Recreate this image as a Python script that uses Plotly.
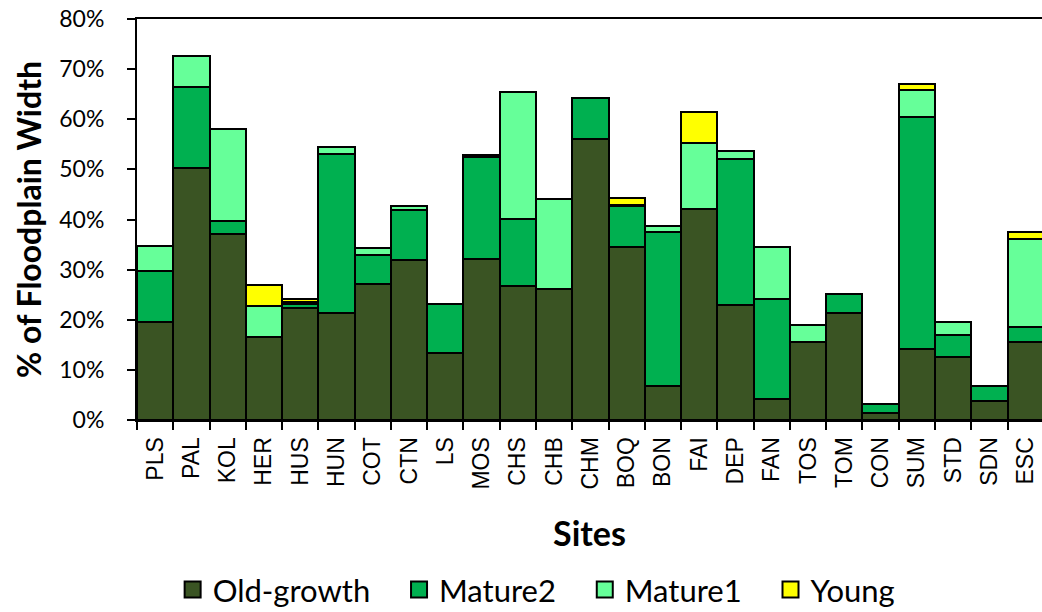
import plotly.graph_objects as go

sites = ["PLS", "PAL", "KOL", "HER", "HUS", "HUN", "COT", "CTN", "LS", "MOS",
         "CHS", "CHB", "CHM", "BOQ", "BON", "FAI", "DEP", "FAN", "TOS", "TOM",
         "CON", "SUM", "STD", "SDN", "ESC"]

old_growth = [19.5, 50.3, 37.1, 16.6, 22.3, 21.4, 27.1, 31.9, 13.3, 32.1,
              26.7, 26.2, 56.1, 34.6, 6.7, 42.0, 22.9, 4.1, 15.6, 21.4,
              1.3, 14.2, 12.5, 3.8, 15.5]
mature2 = [10.3, 16.2, 2.7, 0, 0.8, 31.7, 5.8, 10.0, 9.8, 20.3,
           13.5, 0, 8.1, 8.1, 30.9, 0, 29.2, 20.1, 0, 3.7,
           1.8, 46.3, 4.5, 3.0, 3.1]
mature1 = [4.9, 6.1, 18.3, 6.2, 0.5, 1.3, 1.4, 0.8, 0, 0.4,
           25.2, 17.9, 0, 0.2, 1.1, 13.2, 1.5, 10.4, 3.4, 0,
           0, 5.4, 2.6, 0, 17.6]
young = [0, 0, 0, 4.1, 0.5, 0, 0, 0, 0, 0,
         0, 0, 0, 1.3, 0, 6.2, 0, 0, 0, 0,
         0, 1.2, 0, 0, 1.4]

series = [("Old-growth", old_growth, "#3A5423"),
          ("Mature2", mature2, "#00B050"),
          ("Mature1", mature1, "#66FF99"),
          ("Young", young, "#FFFF00")]

fig = go.Figure()
for name, vals, col in series:
    fig.add_trace(go.Bar(
        x=sites, y=vals, name=name, showlegend=False,
        marker=dict(color=col, line=dict(color="black", width=2.2)),
    ))
# legend proxies (square swatches); trailing spaces widen the gaps between entries
pad = "\u00a0" * 3
for i, (name, vals, col) in enumerate(series):
    label = name + (pad if i < len(series) - 1 else "")
    fig.add_trace(go.Scatter(
        x=[None], y=[None], mode="markers", name=label,
        marker=dict(symbol="square", size=19, color=col,
                    line=dict(color="black", width=2)),
    ))

fig.update_layout(
    barmode="stack", bargap=0,
    width=1042, height=612,
    margin=dict(l=137, r=0, t=19, b=192),
    plot_bgcolor="white", paper_bgcolor="white",
    font=dict(family="Lato, Liberation Sans, sans-serif", color="black"),
    legend=dict(orientation="h", xref="container", yref="container",
                x=0.515, y=0.036, xanchor="center", yanchor="middle",
                font=dict(family="Lato", size=31, color="black"),
                traceorder="normal",
                itemsizing="trace", tracegroupgap=0),
)
fig.update_xaxes(
    range=[-0.5, 24.45], tickangle=-90, tickson="boundaries",
    ticks="outside", ticklen=8, tickwidth=2, tickcolor="black",
    showline=True, linecolor="black", linewidth=2, mirror=True,
    ticklabelstandoff=6, automargin=False,
    tickfont=dict(family="Liberation Sans, Arial", size=23, color="black"),
    title=dict(text="<b>Sites</b>", font=dict(family="Lato", size=34, color="black"),
               standoff=34),
    showgrid=False,
)
fig.update_yaxes(
    range=[0, 80], dtick=10, ticksuffix="%",
    ticks="outside", ticklen=8, tickwidth=2, tickcolor="black",
    showline=True, linecolor="black", linewidth=2,
    ticklabelstandoff=18, automargin=False,
    tickfont=dict(family="Lato", size=23, color="black"),
    title=dict(text="<b>% of Floodplain Width</b>",
               font=dict(family="Lato", size=32, color="black"), standoff=8),
    showgrid=False, zeroline=False,
)
fig.write_html("out.html", config={"displayModeBar": False},
               post_script="document.body.style.margin='0';document.body.style.overflow='hidden';")
